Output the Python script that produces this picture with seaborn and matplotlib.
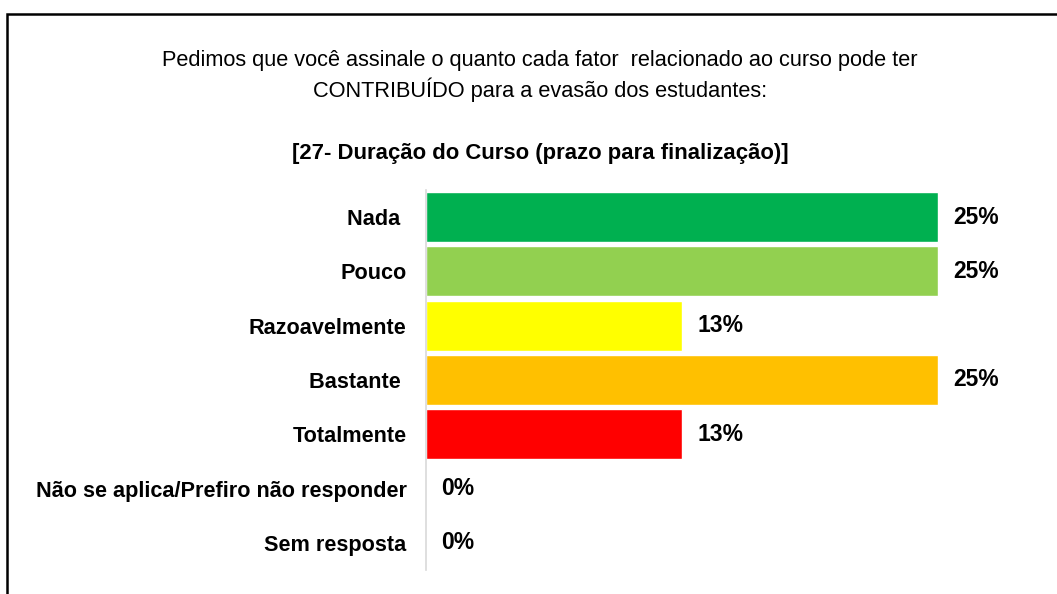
import matplotlib
matplotlib.use("Agg")
import matplotlib.pyplot as plt
import seaborn as sns
import pandas as pd
from matplotlib.patches import Rectangle

# data
categories = ["Nada ", "Pouco", "Razoavelmente", "Bastante ", "Totalmente",
              "Não se aplica/Prefiro não responder", "Sem resposta"]
percent = [25, 25, 12.5, 25, 12.5, 0, 0]
value_labels = ["25%", "25%", "13%", "25%", "13%", "0%", "0%"]
bar_colors = ["#00B050", "#92D050", "#FFFF00", "#FFC000", "#FF0000", "#A6A6A6", "#A6A6A6"]

title_text = ("Pedimos que você assinale o quanto cada fator  relacionado ao curso pode ter\n"
              "CONTRIBUÍDO para a evasão dos estudantes:")
subtitle_text = "[27- Duração do Curso (prazo para finalização)]"

sns.set_style("white")
plt.rcParams["font.family"] = ["Liberation Sans Narrow", "Liberation Sans", "DejaVu Sans"]
plt.rcParams["text.color"] = "black"
plt.rcParams["ytick.color"] = "black"

df = pd.DataFrame({"cat": categories, "pct": percent})

W, H = 1057, 594
fig = plt.figure(figsize=(W / 100, H / 100), dpi=100)

# frame of the slide (cut off at right and bottom)
fig.patches.append(Rectangle((7 / W, -0.05), 1.1, 1 - 14 / H + 0.05, transform=fig.transFigure,
                             fill=False, edgecolor="black", linewidth=1.8))

ax = fig.add_axes([426 / W, 1 - 570 / H, (1040 - 426) / W, (570 - 190) / H])
sns.barplot(data=df, x="pct", y="cat", hue="cat", palette=bar_colors, legend=False,
            orient="h", width=0.92, saturation=1, ax=ax)

ax.set_xlim(0, 30)
ax.set_ylim(6.5, -0.5)
ax.set_xlabel("")
ax.set_ylabel("")
ax.set_xticks([])
for s in ["top", "right", "bottom"]:
    ax.spines[s].set_visible(False)
ax.spines["left"].set_color("#D9D9D9")
ax.spines["left"].set_linewidth(1.2)
ax.tick_params(axis="y", length=0, pad=14)
for lbl in ax.get_yticklabels():
    lbl.set_fontweight("bold")
    lbl.set_fontsize(15.6)
    lbl.set_color("black")

for i, (v, t) in enumerate(zip(percent, value_labels)):
    ax.text(v + 0.75, i, t, va="center", ha="left", fontsize=16.5, fontweight="bold",
            color="black")

fig.text(540 / W, 1 - 76 / H, title_text, ha="center", va="center", fontsize=15.7,
         linespacing=1.3, color="black")
fig.text(540 / W, 1 - 153 / H, subtitle_text, ha="center", va="center", fontsize=15.9,
         fontweight="bold", color="black")

fig.savefig("out.png", dpi=100)
